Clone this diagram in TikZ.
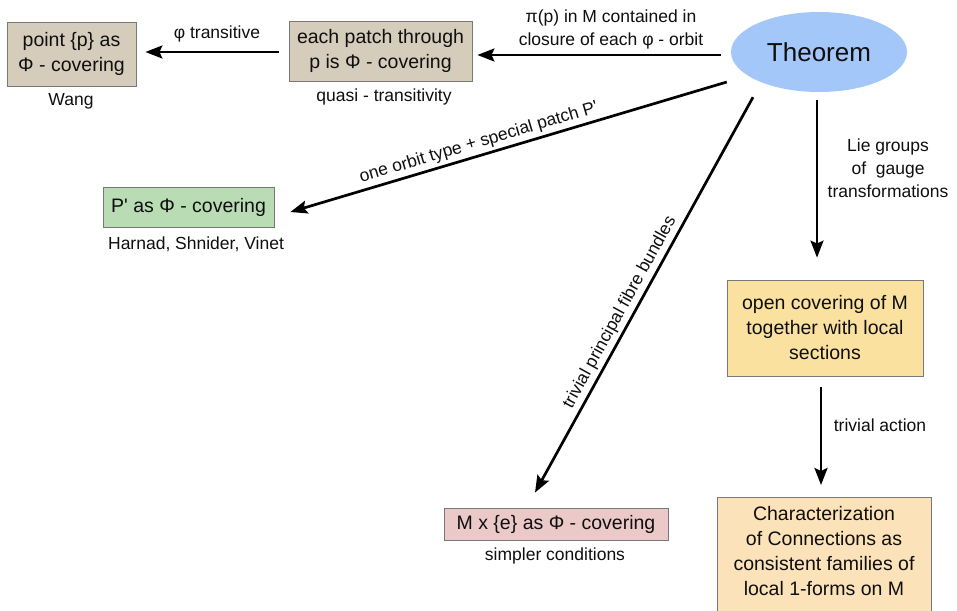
\documentclass[tikz,border=0pt]{standalone}
\usepackage{fontspec}
\setmainfont{Liberation Sans}
\usetikzlibrary{arrows.meta,shapes.geometric}
\definecolor{tanfill}{RGB}{214,204,187}
\definecolor{greenfill}{RGB}{185,220,181}
\definecolor{pinkfill}{RGB}{236,201,201}
\definecolor{yellowfill}{RGB}{251,225,160}
\definecolor{peachfill}{RGB}{251,226,184}
\definecolor{bluefill}{RGB}{164,199,249}
\definecolor{boxline}{RGB}{120,120,120}
\definecolor{ink}{RGB}{15,15,15}
\begin{document}
\begin{tikzpicture}[x=1pt,y=-1pt,
  box/.style={draw=boxline, line width=0.8pt, align=center, text=ink,
    font=\fontsize{19.5}{25}\selectfont, inner sep=0pt},
  lbl/.style={font=\fontsize{17.5}{23}\selectfont, align=center, text=ink},
  arr/.style={line width=2.7pt, -{Stealth[length=17pt,width=13pt,inset=3pt]}}]
\clip (0,0) rectangle (957,610);
\fill[white] (0,0) rectangle (957,610);

% nodes
\node[box, fill=tanfill, minimum width=129, minimum height=64] (b1) at (71.5,54) {point \{p\} as\\Φ - covering};
\node[lbl] (wang) at (71,101) {Wang};
\node[box, fill=tanfill, minimum width=183, minimum height=60] (b2) at (380.5,51) {each patch through\\p is Φ - covering};
\node[lbl] (quasi) at (384,97) {quasi - transitivity};
\node[ellipse, fill=bluefill, minimum width=176, minimum height=80, inner sep=0pt,
  font=\fontsize{26}{30}\selectfont, text=ink] (th) at (819,52) {Theorem};
\node[box, fill=greenfill, minimum width=171, minimum height=40] (pp) at (188.5,207) {P\textquotesingle\ as Φ - covering};
\node[lbl] (hsv) at (196,244) {Harnad, Shnider, Vinet};
\node[box, fill=pinkfill, minimum width=224, minimum height=32] (mxe) at (556,524) {M x \{e\} as Φ - covering};
\node[lbl] (simpler) at (555,556) {simpler conditions};
\node[box, fill=yellowfill, minimum width=196, minimum height=96] (open) at (825,328) {open covering of M\\together with local\\sections};
\node[box, fill=peachfill, minimum width=214, inner ysep=9pt, anchor=north] (char) at (824,497)
  {Characterization\\of Connections as\\consistent families of\\local 1-forms on M\rule[-16pt]{0pt}{0pt}};

% edge labels
\node[lbl] (lphi) at (217,34) {φ transitive};
\node[lbl] (lpi) at (611,29) {π(p) in M contained in\\closure of each φ - orbit};
\node[lbl] (llie) at (888,168) {Lie groups\\of~ gauge\\transformations};
\node[lbl] (ltriv) at (880,425) {trivial action};

% connectors
\draw[arr, shorten <=10pt, shorten >=9pt] ([yshift=-1pt]b2.west) -- ([yshift=-1pt]b2.west -| b1.east);
\draw[arr] ([shift={(-10,3)}]th.west) -- ([shift={(5,4)}]b2.east);
\draw[arr] ([shift={(-4,30)}]th.west) -- ([shift={(16,5)}]pp.east)
  node[lbl, sloped, above, pos=0.56, inner sep=3pt] {one orbit type + special patch P\textquotesingle};
\draw[arr] ([shift={(-66,5)}]th.south) -- ([shift={(-21,-15)}]mxe.north)
  node[lbl, sloped, above, pos=0.56, inner sep=3pt] {trivial principal fibre bundles};
\draw[arr] ([shift={(-2,8)}]th.south) -- ([shift={(-8,-22)}]open.north);
\draw[arr] ([shift={(-4,11)}]open.south) -- ([shift={(-3,-12)}]char.north);
\end{tikzpicture}
\end{document}
